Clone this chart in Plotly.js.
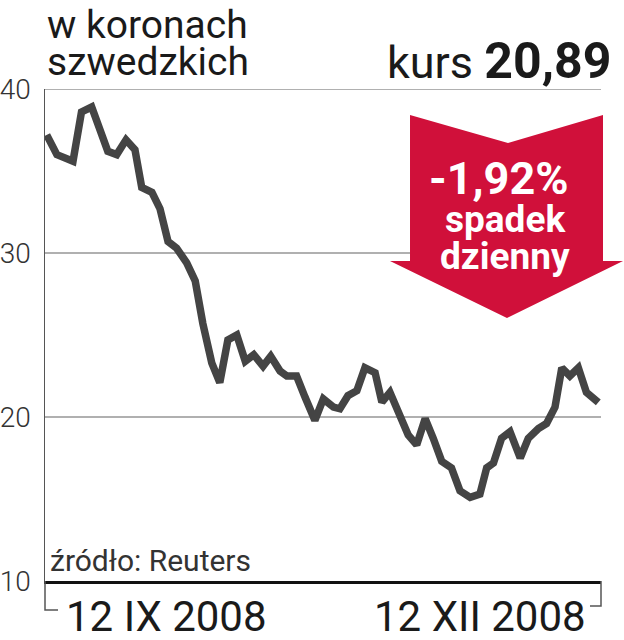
<!DOCTYPE html>
<html>
<head>
<meta charset="utf-8">
<script src="https://cdn.plot.ly/plotly-3.0.1.min.js"></script>
<style>html,body{margin:0;padding:0;background:#fff;}#chart{width:624px;height:640px;}</style>
</head>
<body>
<div id="chart"></div>
<script>
// Session number (trading days since 12 IX 2008) and SEK price
const sesje = [0, 1.2, 3.1, 4.1, 5.3, 6.3, 7.2, 8.25, 9.35, 10.4, 11.2, 12.4, 13.35, 14.3, 15.3, 16.5, 17.5, 18.4, 19.45, 20.4,
  21.35, 22.4, 23.4, 24.4, 25.5, 26.4, 27.5, 28.3, 29.45, 30.45, 31.6, 32.6, 33.8, 34.55, 35.5, 36.55, 37.5, 38.7, 39.5, 40.45,
  41.65, 42.6, 43.6, 44.6, 45.55, 46.55, 47.7, 48.7, 49.9, 51.05, 51.85, 52.65, 53.6, 54.6, 55.8, 56.75, 57.95, 58.9, 59.9, 60.7,
  61.65, 62.65, 63.6, 65];
const kurs = [37.2, 36.0, 35.6, 38.6, 38.9, 37.3, 36.2, 36.0, 36.9, 36.3, 34.0, 33.7, 32.7, 30.7, 30.3, 29.4, 28.3, 25.7, 23.3, 22.1,
  24.7, 25.0, 23.4, 23.8, 23.1, 23.7, 22.8, 22.5, 22.5, 21.2, 19.8, 21.1, 20.6, 20.5, 21.3, 21.6, 23.0, 22.7, 20.9, 21.5,
  20.0, 18.9, 18.3, 19.9, 18.7, 17.3, 16.9, 15.5, 15.1, 15.3, 16.9, 17.2, 18.7, 19.1, 17.5, 18.7, 19.3, 19.6, 20.6, 23.0,
  22.5, 23.0, 21.5, 20.89];
const yTicks = [10, 20, 30, 40];
const dataOd = "12 IX 2008";
const dataDo = "12 XII 2008";
const tytul1 = "w koronach";
const tytul2 = "szwedzkich";
const kursTekst = "kurs";
const kursWartosc = "20,89";
const zmiana = "-1,92%";
const zmianaOpis1 = "spadek";
const zmianaOpis2 = "dzienny";
const zrodlo = "źródło: Reuters";

// pixel -> paper helpers
const W = 624, H = 640, L = 45, R = 23, T = 89, B = 59;
const pw = W - L - R, ph = H - T - B;
const px = x => (x - L) / pw;
const py = y => (H - B - y) / ph;
const P = (x, y) => px(x).toFixed(4) + ',' + py(y).toFixed(4);

const arrowPath = 'M' + P(410,115) + ' L' + P(508,143) + ' L' + P(603,115) + ' L' + P(603,261) +
  ' L' + P(623,261) + ' L' + P(507,318) + ' L' + P(390,261) + ' L' + P(410,261) + ' Z';

const trace = {
  x: sesje, y: kurs, type: 'scatter', mode: 'lines',
  line: {color: '#444444', width: 7.5, shape: 'linear'},
  hoverinfo: 'skip'
};

const font = 'Roboto, "Open Sans", sans-serif';
const layout = {
  width: W, height: H,
  margin: {l: L, r: R, t: T, b: B, pad: 0},
  paper_bgcolor: '#ffffff', plot_bgcolor: '#ffffff',
  showlegend: false,
  xaxis: {
    range: [(L - 46.7) / 8.486, (W - R - 46.7) / 8.486],
    showgrid: false, zeroline: false, showticklabels: false, ticks: '',
    showline: true, linecolor: '#111111', linewidth: 3, fixedrange: true
  },
  yaxis: {
    range: [10, 40], tickvals: yTicks, ticktext: yTicks.map(String),
    showgrid: true, gridcolor: '#b0b0b0', gridwidth: 2, zeroline: false,
    showline: true, linecolor: '#555555', linewidth: 1.5,
    ticks: '', ticklabelstandoff: 7,
    tickfont: {family: font, size: 28, color: '#333333', weight: 300},
    fixedrange: true
  },
  shapes: [
    {type: 'line', xref: 'paper', yref: 'y', x0: 0, x1: 1, y0: yTicks[3], y1: yTicks[3],
     line: {color: '#b0b0b0', width: 2}, layer: 'below'},
    {type: 'path', xref: 'paper', yref: 'paper', path: arrowPath,
     fillcolor: '#d0103a', line: {width: 0}, layer: 'above'},
    {type: 'path', xref: 'paper', yref: 'paper',
     path: 'M' + P(45,581) + ' L' + P(45,610) + ' L' + P(58,610),
     line: {color: '#555555', width: 1.5}},
    {type: 'path', xref: 'paper', yref: 'paper',
     path: 'M' + P(601,581) + ' L' + P(601,606) + ' L' + P(590,606),
     line: {color: '#555555', width: 1.5}}
  ],
  annotations: [
    {text: tytul1, xref: 'paper', yref: 'paper', x: px(45), y: py(25), xanchor: 'left', yanchor: 'middle',
     showarrow: false, font: {family: font, size: 39, color: '#1a1a1a'}},
    {text: tytul2, xref: 'paper', yref: 'paper', x: px(45), y: py(62), xanchor: 'left', yanchor: 'middle',
     showarrow: false, font: {family: font, size: 39, color: '#1a1a1a'}},
    {text: kursTekst + ' <b><span style="font-size:50px">' + kursWartosc + '</span></b>',
     xref: 'paper', yref: 'paper', x: px(613), y: py(61), xanchor: 'right', yanchor: 'middle',
     showarrow: false, font: {family: font, size: 45, color: '#1a1a1a'}},
    {text: '<b>' + zmiana + '</b>', xref: 'paper', yref: 'paper', x: px(499), y: py(178), xanchor: 'center', yanchor: 'middle',
     showarrow: false, font: {family: font, size: 45, color: '#ffffff'}},
    {text: '<b>' + zmianaOpis1 + '</b>', xref: 'paper', yref: 'paper', x: px(505), y: py(219), xanchor: 'center', yanchor: 'middle',
     showarrow: false, font: {family: font, size: 37, color: '#ffffff'}},
    {text: '<b>' + zmianaOpis2 + '</b>', xref: 'paper', yref: 'paper', x: px(505), y: py(256), xanchor: 'center', yanchor: 'middle',
     showarrow: false, font: {family: font, size: 37, color: '#ffffff'}},
    {text: zrodlo, xref: 'paper', yref: 'paper', x: px(48), y: py(560), xanchor: 'left', yanchor: 'middle',
     showarrow: false, font: {family: '"Liberation Sans Narrow", Roboto, sans-serif', size: 30, color: '#333333'}},
    {text: dataOd, xref: 'paper', yref: 'paper', x: px(64), y: py(616), xanchor: 'left', yanchor: 'middle',
     showarrow: false, font: {family: font, size: 42, color: '#1a1a1a'}},
    {text: dataDo, xref: 'paper', yref: 'paper', x: px(588), y: py(616), xanchor: 'right', yanchor: 'middle',
     showarrow: false, font: {family: font, size: 42, color: '#1a1a1a'}}
  ]
};

Plotly.newPlot('chart', [trace], layout, {staticPlot: true, displayModeBar: false});
</script>
</body>
</html>
